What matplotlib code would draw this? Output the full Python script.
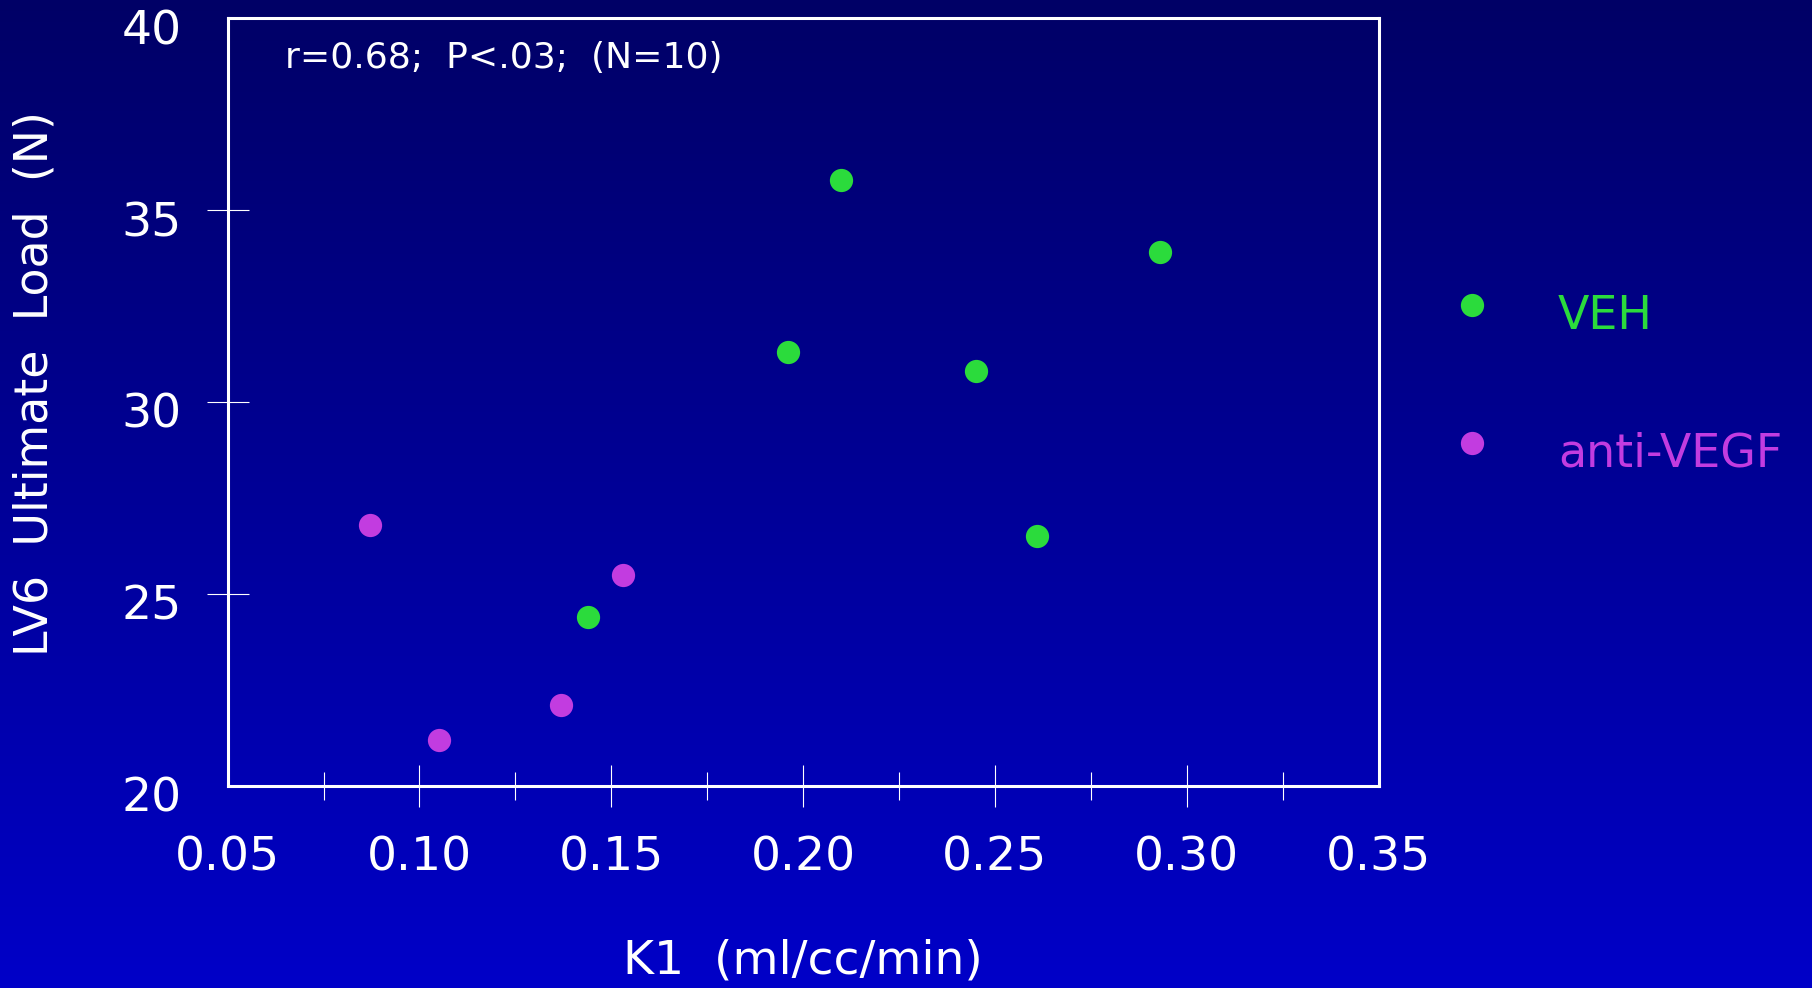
import numpy as np
import matplotlib
matplotlib.use("Agg")
import matplotlib.pyplot as plt
import matplotlib.transforms as mtransforms
from matplotlib.colors import LinearSegmentedColormap
from matplotlib.ticker import MultipleLocator


# ---------------------------
# DATA
# ---------------------------
veh_k1 = [0.210, 0.293, 0.196, 0.245, 0.261, 0.144]
veh_load = [35.8, 33.9, 31.3, 30.8, 26.5, 24.4]

anti_k1 = [0.087, 0.153, 0.137, 0.105]
anti_load = [26.8, 25.5, 22.1, 21.2]

x_ticks = [0.05, 0.10, 0.15, 0.20, 0.25, 0.30, 0.35]
y_ticks = [20, 25, 30, 35, 40]

stats_text = "r=0.68;  P<.03;  (N=10)"

GREEN = "#2bdb3c"
PURPLE = "#c23ce0"
WHITE = "white"

plt.rcParams["font.family"] = ["DejaVu Sans"]

fig = plt.figure(figsize=(18.12, 9.88), dpi=100)

# background gradient, dark navy on top to brighter blue at the bottom
bg = fig.add_axes([0, 0, 1, 1], zorder=-10)
grad = np.linspace(0, 1, 256).reshape(-1, 1)
cmap = LinearSegmentedColormap.from_list("bg", ["#000066", "#0000c8"])
bg.imshow(grad, aspect="auto", cmap=cmap, extent=[0, 1, 0, 1], origin="upper")
bg.axis("off")

# ---------------------------
# SCATTER
# ---------------------------
ax = fig.add_axes([0.1256, 0.2047, 0.6352, 0.7766])
ax.patch.set_alpha(0)

ax.scatter(veh_k1, veh_load, s=280, color=GREEN, linewidths=0, label="VEH", zorder=3)
ax.scatter(anti_k1, anti_load, s=280, color=PURPLE, linewidths=0, label="anti-VEGF", zorder=3)

ax.set_xlim(0.05, 0.35)
ax.set_ylim(20, 40)
ax.set_xticks(x_ticks)
ax.set_xticklabels([f"{v:.2f}" for v in x_ticks])
ax.set_yticks(y_ticks)
ax.xaxis.set_minor_locator(MultipleLocator(0.025))

for sp in ax.spines.values():
    sp.set_color(WHITE)
    sp.set_linewidth(2.2)

ax.tick_params(which="major", direction="inout", length=30, width=0.8,
               color=WHITE, labelcolor=WHITE, labelsize=34, pad=18)
ax.tick_params(axis="x", which="minor", direction="inout", length=20, width=0.8,
               color=WHITE)

# no tick marks on the corners, only the labels
for axis in (ax.xaxis, ax.yaxis):
    ticks = axis.get_major_ticks()
    for t in (ticks[0], ticks[-1]):
        t.tick1line.set_visible(False)
        t.tick2line.set_visible(False)

# the labels sit a little below their ticks in the original
shift_y = mtransforms.ScaledTranslation(0, -6 / 72, fig.dpi_scale_trans)
for lbl in ax.get_yticklabels():
    lbl.set_transform(lbl.get_transform() + shift_y)
shift_x = mtransforms.ScaledTranslation(0, -3 / 72, fig.dpi_scale_trans)
for lbl in ax.get_xticklabels():
    lbl.set_transform(lbl.get_transform() + shift_x)

ax.set_xlabel("K1  (ml/cc/min)", color=WHITE, fontsize=34, va="center")
ax.xaxis.set_label_coords(0.5, -0.228)
ax.set_ylabel("LV6  Ultimate  Load  (N)", color=WHITE, fontsize=33, va="center")
ax.yaxis.set_label_coords(-0.1673, 0.524)

ax.text(0.05, 0.9485, stats_text, transform=ax.transAxes, color=WHITE,
        fontsize=26, va="center", ha="left")

leg = ax.legend(loc="upper left", bbox_to_anchor=(0.7997, 0.7024),
                bbox_transform=fig.transFigure, frameon=False, fontsize=33,
                handlelength=1.0, handletextpad=1.38, labelspacing=2.02,
                borderpad=0, borderaxespad=0, scatteryoffsets=[0.735])
for txt, col in zip(leg.get_texts(), [GREEN, PURPLE]):
    txt.set_color(col)

fig.savefig("out.png", dpi=100)
